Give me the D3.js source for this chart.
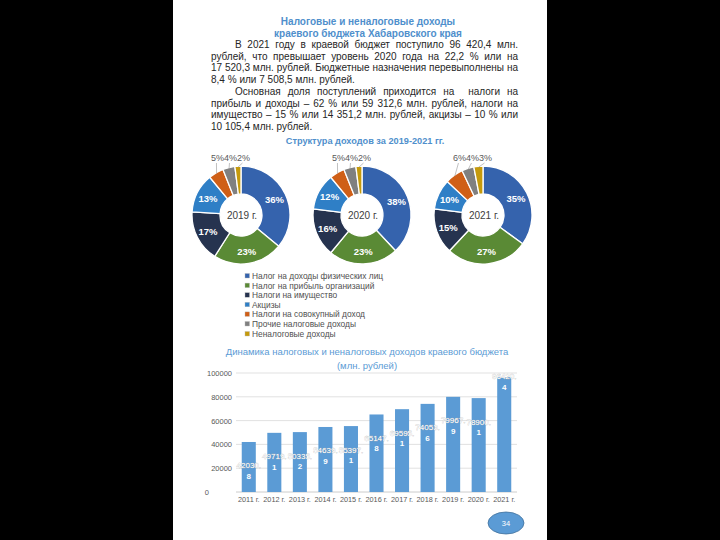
<!DOCTYPE html>
<html><head><meta charset="utf-8">
<script src="https://cdn.jsdelivr.net/npm/d3@7/dist/d3.min.js"></script>
<style>html,body{margin:0;padding:0;background:#000;}svg{display:block;}</style>
</head><body>
<svg id="chart" width="720" height="540"></svg>
<script>
// ---- data ----
const titleLines = ["Налоговые и неналоговые доходы", "краевого бюджета Хабаровского края"];
const paragraph1 = [
  "В 2021 году в краевой бюджет поступило 96 420,4 млн.",
  "рублей, что превышает уровень 2020 года на 22,2 % или на",
  "17 520,3 млн. рублей. Бюджетные назначения перевыполнены на",
  "8,4 % или 7 508,5 млн. рублей."
];
const paragraph2 = [
  "Основная доля поступлений приходится на  налоги на",
  "прибыль и доходы – 62 % или 59 312,6 млн. рублей, налоги на",
  "имущество – 15 % или 14 351,2 млн. рублей, акцизы – 10 % или",
  "10 105,4 млн. рублей."
];
const structureTitle = "Структура доходов за 2019-2021 гг.";
const categories = [
  "Налог на доходы физических лиц",
  "Налог на прибыль организаций",
  "Налоги на имущество",
  "Акцизы",
  "Налоги на совокупный доход",
  "Прочие налоговые доходы",
  "Неналоговые доходы"
];
const donutYears = ["2019 г.", "2020 г.", "2021 г."];
const shares2019 = [36, 23, 17, 13, 5, 4, 2];
const shares2020 = [38, 23, 16, 12, 5, 4, 2];
const shares2021 = [35, 27, 15, 10, 6, 4, 3];
const barTitle = ["Динамика налоговых и неналоговых доходов краевого бюджета", "(млн. рублей)"];
const years = ["2011 г.", "2012 г.", "2013 г.", "2014 г.", "2015 г.", "2016 г.", "2017 г.", "2018 г.", "2019 г.", "2020 г.", "2021 г."];
const revenues = [42030.8, 49719.1, 50335.2, 54639.9, 55397.1, 65147.8, 69595.1, 74053.6, 79967.9, 78900.1, 96420.4];
const yTicks = [0, 20000, 40000, 60000, 80000, 100000];
const pageNumber = "34";

// ---- drawing ----
const svg = d3.select("#chart");
const FONT = "'Liberation Sans', Arial, sans-serif";
svg.append("rect").attr("x", 0).attr("y", 0).attr("width", 720).attr("height", 540).attr("fill", "#000");
svg.append("rect").attr("x", 173).attr("y", 0).attr("width", 374).attr("height", 540).attr("fill", "#fff");

// Title
titleLines.forEach((t, i) => {
  svg.append("text").attr("x", 368).attr("y", 24.5 + i * 12)
    .attr("text-anchor", "middle").attr("font-family", FONT).attr("font-size", 10)
    .attr("font-weight", "bold").attr("fill", "#4f8fcc").text(t);
});

// Justified paragraphs
function drawLine(str, x0, x1, y, justify) {
  const words = str.split(" ");
  const g = svg.append("g");
  const nodes = words.map(w => g.append("text").attr("y", y).attr("font-family", FONT)
    .attr("font-size", 10).attr("fill", "#262626").text(w));
  const widths = nodes.map(n => n.node().getComputedTextLength());
  const total = d3.sum(widths);
  const gap = justify && words.length > 1 ? (x1 - x0 - total) / (words.length - 1) : 2.8;
  let x = x0;
  nodes.forEach((n, i) => { n.attr("x", x); x += widths[i] + gap; });
}
const lineH = 11.7;
let yy = 48;
[paragraph1, paragraph2].forEach(par => {
  par.forEach((ln, i) => {
    const x0 = i === 0 ? 235 : 211;
    drawLine(ln, x0, 518, yy, i < par.length - 1);
    yy += lineH;
  });
});

// Structure subtitle
svg.append("text").attr("x", 365).attr("y", 143.5).attr("text-anchor", "middle")
  .attr("font-family", FONT).attr("font-size", 9.2).attr("font-weight", "bold")
  .attr("fill", "#4f8fcc").text(structureTitle);

// Donuts
const colors = ["#3563ad", "#5a8a35", "#26334f", "#2f7fc6", "#cf5f17", "#808080", "#c59a0c"];
const color = d3.scaleOrdinal().domain(categories).range(colors);
const donutCenters = d3.scalePoint().domain(donutYears).range([241, 483]);
const R = 49, r = 21;
const pie = d3.pie().sort(null).value(d => d.v);
const arc = d3.arc().innerRadius(r).outerRadius(R);
const labelArc = d3.arc().innerRadius((R + r) / 2 + 2).outerRadius((R + r) / 2 + 2);
[shares2019, shares2020, shares2021].forEach((shares, k) => {
  const cx = donutCenters(donutYears[k]), cy = 215;
  const g = svg.append("g").attr("transform", `translate(${cx},${cy})`);
  const arcs = pie(shares.map((v, i) => ({ v, c: categories[i] })));
  g.selectAll("path").data(arcs).join("path")
    .attr("d", arc).attr("fill", d => color(d.data.c))
    .attr("stroke", "#fff").attr("stroke-width", 1.3);
  arcs.slice(0, 4).forEach(a => {
    const [lx, ly] = labelArc.centroid(a);
    g.append("text").attr("x", lx).attr("y", ly + 3.3).attr("text-anchor", "middle")
      .attr("font-family", FONT).attr("font-size", 9.5).attr("font-weight", "bold")
      .attr("fill", "#fff").text(a.data.v + "%");
  });
  const small = arcs.slice(4);
  const texts = small.map(a => g.append("text").attr("y", -R - 5)
    .attr("font-family", FONT).attr("font-size", 9).attr("fill", "#595959").text(a.data.v + "%"));
  const ws = texts.map(t => t.node().getComputedTextLength());
  let xr = 9;
  for (let i = texts.length - 1; i >= 0; i--) {
    xr -= ws[i];
    texts[i].attr("x", xr);
    const a = small[i];
    const mid = (a.startAngle + a.endAngle) / 2;
    const ex = Math.sin(mid) * (R - 1), ey = -Math.cos(mid) * (R - 1);
    g.append("line").attr("x1", xr + ws[i] / 2 - 1).attr("y1", -R - 3)
      .attr("x2", ex).attr("y2", ey).attr("stroke", "#a6a6a6").attr("stroke-width", 0.7);
  }
  g.append("text").attr("x", 1).attr("y", 4).attr("text-anchor", "middle")
    .attr("font-family", FONT).attr("font-size", 10).attr("fill", "#404040").text(donutYears[k]);
});

// Legend
categories.forEach((c, i) => {
  const y = i < 6 ? 276 + i * 9.6 : 334;
  svg.append("rect").attr("x", 245).attr("y", y - 2.5).attr("width", 4.5).attr("height", 4.5)
    .attr("fill", color(c)).attr("stroke", "#bbb").attr("stroke-width", 0.4);
  svg.append("text").attr("x", 252).attr("y", y + 3).attr("font-family", FONT)
    .attr("font-size", 8.4).attr("fill", "#505050").text(c);
});

// Bar chart title
barTitle.forEach((t, i) => {
  svg.append("text").attr("x", 367).attr("y", 355 + i * 14).attr("text-anchor", "middle")
    .attr("font-family", FONT).attr("font-size", 9.5).attr("fill", "#5b9bd5").text(t);
});

// Bar chart
const x = d3.scaleBand().domain(years).range([236, 517]).paddingInner(0.45).paddingOuter(0.225);
const y = d3.scaleLinear().domain([0, 100000]).range([492, 373]);
const grid = svg.append("g");
yTicks.forEach(t => {
  grid.append("line").attr("x1", 236).attr("x2", 517).attr("y1", y(t)).attr("y2", y(t))
    .attr("stroke", t === 0 ? "#bfbfbf" : "#d9d9d9").attr("stroke-width", 0.8);
});
const yAxis = svg.append("g").attr("transform", "translate(234,0)")
  .call(d3.axisLeft(y).tickValues(yTicks).tickSize(0).tickPadding(2).tickFormat(d3.format("d")));
yAxis.select(".domain").remove();
yAxis.selectAll("text").attr("font-family", FONT).attr("font-size", 7.5).attr("fill", "#595959");
yAxis.selectAll(".tick").filter(d => d === 0).select("text").attr("x", -25);

svg.selectAll("rect.bar").data(revenues).join("rect").attr("class", "bar")
  .attr("x", (d, i) => x(years[i])).attr("width", x.bandwidth())
  .attr("y", d => y(d)).attr("height", d => y(0) - y(d)).attr("fill", "#5b9bd5");

const xAxis = svg.append("g").attr("transform", "translate(0,492)")
  .call(d3.axisBottom(x).tickSize(0).tickPadding(5));
xAxis.select(".domain").remove();
xAxis.selectAll("text").attr("font-family", FONT).attr("font-size", 7.3).attr("fill", "#595959");

const maxV = d3.max(revenues);
revenues.forEach((v, i) => {
  const cxb = x(years[i]) + x.bandwidth() / 2;
  const center = v === maxV ? y(v) + 4 : y(v) + 28.5;
  const parts = v.toFixed(1).split(".");
  const t = svg.append("text").attr("text-anchor", "middle").attr("font-family", FONT)
    .attr("font-size", 8).attr("fill", "#fff").attr("stroke", "#b0b0b0").attr("stroke-width", 0.35)
    .attr("paint-order", "stroke");
  t.append("tspan").attr("x", cxb).attr("y", center - 2).text(parts[0] + ".");
  t.append("tspan").attr("x", cxb).attr("y", center + 8.5).attr("font-weight", "bold").attr("stroke", "none").text(parts[1]);
});

// page number
svg.append("ellipse").attr("cx", 506).attr("cy", 523).attr("rx", 18).attr("ry", 11)
  .attr("fill", "#5b9bd5").attr("stroke", "#41719c").attr("stroke-width", 0.8);
svg.append("text").attr("x", 506).attr("y", 526).attr("text-anchor", "middle")
  .attr("font-family", FONT).attr("font-size", 7.5).attr("fill", "#fff").text(pageNumber);
</script>
</body></html>
